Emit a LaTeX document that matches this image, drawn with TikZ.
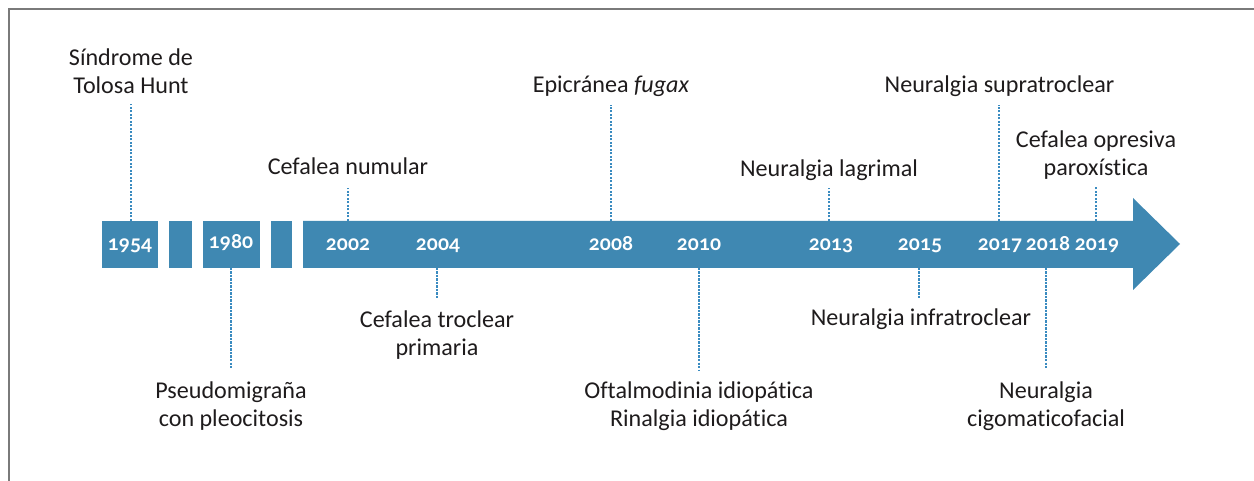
\documentclass[tikz,border=0pt]{standalone}
\usepackage{fontspec}
\setmainfont{Carlito}[Ligatures=NoCommon]
\newfontfamily\yearfont{Lato}[Numbers=OldStyle]
\definecolor{barblue}{HTML}{3F88B2}
\definecolor{dotblue}{HTML}{3A8BC0}
\definecolor{txt}{HTML}{1E1B1C}
\definecolor{framegray}{HTML}{7A7A7A}
\begin{document}
\begin{tikzpicture}[x=1bp,y=-1bp,
  lab/.style={font=\fontsize{24.2}{28.5}\selectfont, text=txt, align=center, inner sep=0pt, anchor=base},
  yr/.style={font=\yearfont\bfseries\fontsize{20.5}{24}\selectfont, text=white, inner sep=0pt, anchor=base},
  dotl/.style={draw=dotblue, line width=2.8bp, dash pattern=on 2.1bp off 1.4bp},
  bar/.style={fill=barblue, draw=none},
  frameline/.style={draw=framegray, line width=1.3bp}]
\useasboundingbox (0,0) rectangle (1254,481);
\draw[frameline] (9,481) -- (9,9) -- (1254,9);

% timeline bars
\fill[bar] (102,221) rectangle (158,268);
\fill[bar] (169,221) rectangle (192,268);
\fill[bar] (203,221) rectangle (260,268);
\fill[bar] (271,221) rectangle (292,268);
\fill[bar] (303,221) -- (1133,221) -- (1133,198) -- (1180,244) -- (1133,290) -- (1133,268) -- (303,268) -- cycle;

% years
\node[yr] (y1954) at (130,251) {1954};
\node[yr] (y1980) at (231,249) {1980};
\node[yr] (y2002) at (348,251) {2002};
\node[yr] (y2004) at (438,251) {2004};
\node[yr] (y2008) at (611,251) {2008};
\node[yr] (y2010) at (699,251) {2010};
\node[yr] (y2013) at (831,251) {2013};
\node[yr] (y2015) at (920,251) {2015};
\node[yr] (y2017) at (1000,251) {2017};
\node[yr] (y2018) at (1048,251) {2018};
\node[yr] (y2019) at (1097,251) {2019};

% labels (anchor base = baseline of last line)
\node[lab] (tolosa) at (131,94) {Síndrome de\\Tolosa Hunt};
\node[lab] (numular) at (348,175) {Cefalea numular};
\node[lab] (fugax) at (611,93) {Epicránea \textit{fugax}};
\node[lab] (lagrimal) at (829,177) {Neuralgia lagrimal};
\node[lab] (supra) at (999.5,93) {Neuralgia supratroclear};
\node[lab] (opresiva) at (1096,176) {Cefalea opresiva\\paroxística};
\node[lab] (troclear) at (437,356) {Cefalea troclear\\primaria};
\node[lab] (pseudo) at (231,426.5) {Pseudomigraña\\con pleocitosis};
\node[lab] (oftal) at (699,426.5) {Oftalmodinia idiopática\\Rinalgia idiopática};
\node[lab] (infra) at (921,326) {Neuralgia infratroclear};
\node[lab] (cigo) at (1046,426.5) {Neuralgia\\cigomaticofacial};

% connector end points
\coordinate (b1954) at (131,221); \coordinate (e1954) at (131,104);
\coordinate (b1980) at (231,268); \coordinate (e1980) at (231,369);
\coordinate (b2002) at (348,221); \coordinate (e2002) at (348,188);
\coordinate (b2004) at (437,268); \coordinate (e2004) at (437,298);
\coordinate (b2008) at (611,221); \coordinate (e2008) at (611,105);
\coordinate (b2010) at (699,268); \coordinate (e2010) at (699,370);
\coordinate (b2013) at (829,221); \coordinate (e2013) at (829,188);
\coordinate (b2015) at (919,268); \coordinate (e2015) at (919,298);
\coordinate (b2017) at (999,221); \coordinate (e2017) at (999,105);
\coordinate (b2018) at (1046,268); \coordinate (e2018) at (1046,369);
\coordinate (b2019) at (1096,221); \coordinate (e2019) at (1096,186);

\foreach \y in {1954,1980,2002,2004,2008,2010,2013,2015,2017,2018,2019}
  \draw[dotl] (b\y) -- (e\y);
\end{tikzpicture}
\end{document}
